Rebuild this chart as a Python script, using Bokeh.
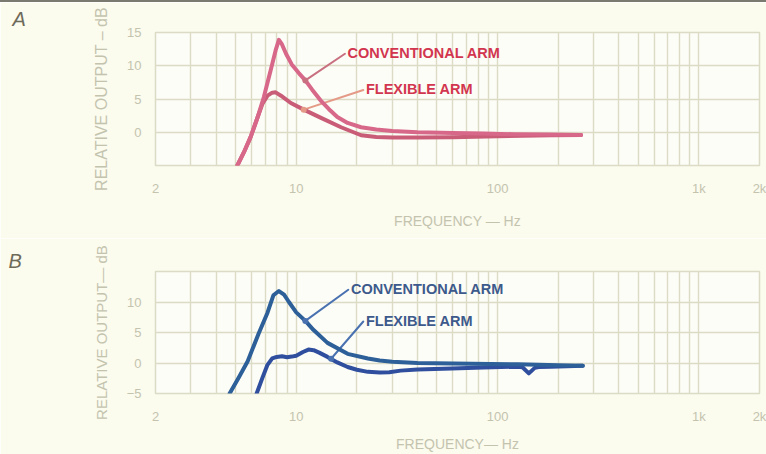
from bokeh.plotting import figure
from bokeh.models import Range1d, FixedTicker, Div
from bokeh.layouts import column
from bokeh.embed import file_html
from bokeh.resources import INLINE
from bokeh.core.properties import value

# ---------------- data ----------------
# Panel A
fa_conv = [5.1, 5.5, 5.94, 6.43, 6.9, 7.46, 7.9, 8.2, 8.5, 8.9, 9.5, 10.3, 11.1, 12.0, 13.2,
           14.5, 16.0, 18.0, 21.0, 25.0, 30.0, 40.0, 60.0, 85.0, 120.0, 180.0, 260.0]
da_conv = [-5.0, -3.0, -0.7, 2.25, 5.25, 9.3, 12.3, 13.9, 13.2, 11.8, 10.2, 8.9, 7.8, 6.4, 4.8,
           3.5, 2.3, 1.4, 0.75, 0.4, 0.2, 0.0, -0.1, -0.2, -0.3, -0.35, -0.4]
fa_flex = [5.1, 5.5, 5.94, 6.43, 6.8, 7.2, 7.6, 7.9, 8.4, 9.4, 10.9, 13.2, 16.7, 21.0, 25.0,
           30.0, 40.0, 60.0, 100.0, 185.0, 260.0]
da_flex = [-5.0, -3.0, -0.7, 2.25, 4.3, 5.5, 5.95, 6.0, 5.5, 4.4, 3.4, 2.2, 0.75, -0.45, -0.7,
           -0.8, -0.8, -0.75, -0.6, -0.45, -0.4]

# Panel B
fb_conv = [4.67, 5.2, 5.74, 6.5, 7.2, 7.7, 8.2, 8.7, 9.2, 10.0, 11.1, 12.2, 14.3, 18.0, 22.7,
           26.0, 30.0, 40.0, 60.0, 126.0, 200.0, 265.0]
db_conv = [-5.0, -2.3, 0.3, 4.8, 8.25, 11.1, 11.8, 11.2, 10.0, 8.3, 6.9, 5.4, 3.3, 1.5, 0.75,
           0.4, 0.2, 0.0, -0.1, -0.2, -0.35, -0.45]
fb_flex = [6.36, 6.8, 7.2, 7.6, 8.0, 8.5, 9.0, 9.5, 10.0, 10.8, 11.5, 12.2, 13.0, 14.3, 16.0,
           18.0, 20.0, 22.7, 26.0, 29.0, 33.0, 40.0, 59.0, 85.0, 126.0, 133.0, 143.0, 153.0,
           160.0, 183.0, 265.0]
db_flex = [-5.0, -2.4, -0.3, 0.75, 1.0, 1.1, 0.95, 1.05, 1.2, 1.8, 2.2, 2.1, 1.7, 1.0, 0.1,
           -0.65, -1.1, -1.45, -1.55, -1.5, -1.25, -1.05, -0.9, -0.75, -0.6, -0.7, -1.7, -0.8,
           -0.65, -0.6, -0.45]

x_ticks = [2, 10, 100, 1000, 2000]
x_tick_labels = ["2", "10", "100", "1k", "2k"]
y_ticks_a = [0, 5, 10, 15]
y_ticks_b = [-5, 0, 5, 10]
grid_freqs = [2, 3, 4, 5, 6, 7, 8, 9, 10, 20, 30, 40, 50, 60, 70, 80, 90,
              100, 200, 300, 400, 500, 600, 700, 800, 900, 1000, 2000]
grid_db = [-5, 0, 5, 10, 15]

series_names = ["CONVENTIONAL ARM", "FLEXIBLE ARM"]

# annotation anchors (data coords): label start, leader end on curve
lab_a_x = [18.0, 22.2]
lab_a_y = [11.9, 6.45]
dot_a_x = [11.1, 10.9]
dot_a_y = [7.8, 3.4]
lab_b_x = [18.7, 22.2]
lab_b_y = [12.1, 6.9]
dot_b_x = [11.1, 14.9]
dot_b_y = [6.9, 0.7]

GRID = "#dcdcc6"
AXTXT = "#c4c4ae"
BORDER = "#fbfbee"
PLOTBG = "#fdfdf7"


def make_panel(letter, letter_offset, letter_standoff, height, top, bottom, yticks, ylabel,
               ylabel_size, xlabel, curves, lab_x, lab_y, dot_x, dot_y, text_color,
               leader_colors, xlab_standoff):
    p = figure(width=766, height=height, x_axis_type="log",
               x_range=Range1d(2, 2000), y_range=Range1d(-5, 15),
               output_backend="svg", toolbar_location=None,
               min_border_left=155, min_border_right=7,
               min_border_top=top, min_border_bottom=bottom)
    p.background_fill_color = PLOTBG
    p.border_fill_color = BORDER
    p.outline_line_color = GRID
    p.outline_line_width = 1.5

    p.title.text = letter
    p.title.align = "left"
    p.title.offset = letter_offset
    p.title.standoff = letter_standoff
    p.title.text_font = "Liberation Sans"
    p.title.text_font_style = "italic"
    p.title.text_font_size = "20px"
    p.title.text_color = "#6e6a5a"

    xa = p.xaxis[0]
    xa.ticker = FixedTicker(ticks=x_ticks)
    xa.major_label_overrides = {t: s for t, s in zip(x_ticks, x_tick_labels)}
    xa.axis_line_color = None
    xa.major_tick_line_color = None
    xa.minor_tick_line_color = None
    xa.major_label_standoff = 9
    xa.major_label_text_font = "Liberation Sans"
    xa.major_label_text_font_size = "13px"
    xa.major_label_text_color = AXTXT
    xa.axis_label = xlabel
    xa.axis_label_standoff = xlab_standoff
    xa.axis_label_text_font = "Liberation Sans"
    xa.axis_label_text_font_size = "14px"
    xa.axis_label_text_font_style = "normal"
    xa.axis_label_text_color = AXTXT

    ya = p.yaxis[0]
    ya.ticker = FixedTicker(ticks=yticks)
    ya.axis_line_color = None
    ya.major_tick_line_color = None
    ya.minor_tick_line_color = None
    ya.major_label_standoff = 8
    ya.major_label_text_font = "Liberation Sans"
    ya.major_label_text_font_size = "13px"
    ya.major_label_text_color = AXTXT
    ya.axis_label = ylabel
    ya.axis_label_standoff = 14
    ya.axis_label_text_font = "Liberation Sans"
    ya.axis_label_text_font_size = ylabel_size
    ya.axis_label_text_font_style = "normal"
    ya.axis_label_text_color = AXTXT

    p.xgrid.ticker = FixedTicker(ticks=grid_freqs)
    p.ygrid.ticker = FixedTicker(ticks=grid_db)
    for g in (p.xgrid[0], p.ygrid[0]):
        g.grid_line_color = GRID
        g.grid_line_width = 1.4
        g.minor_grid_line_color = None

    # leaders
    for i in range(2):
        p.line([dot_x[i], lab_x[i] * 0.97], [dot_y[i], lab_y[i] - 0.1],
               line_color=leader_colors[i], line_width=2.0, line_cap="round")
    # curves
    for fx, dy, col in curves:
        p.line(fx, dy, line_color=col, line_width=4, line_cap="round", line_join="round")
    p.scatter(dot_x, dot_y, size=6, color=leader_colors, line_color=None)

    p.text(x=lab_x, y=lab_y, text=series_names, text_font=value("Liberation Sans"),
           text_font_size="14.5px", text_font_style="bold", text_color=text_color,
           text_align="left", text_baseline="middle")
    return p


top_rule = Div(text="", width=766, height=2,
               styles={"background-color": "#7a7a70", "margin": "0", "padding": "0"})

pa = make_panel("A", -143, 6, 236, 30, 73, y_ticks_a, "RELATIVE OUTPUT \u2013 dB", "16px",
                "FREQUENCY \u2014 Hz",
                [(fa_flex, da_flex, "#c95d78"), (fa_conv, da_conv, "#d8688a")],
                lab_a_x, lab_a_y, dot_a_x, dot_a_y, "#d2364f", ["#c87080", "#e49a86"], 14)
pb = make_panel("B", -147, 0, 216, 33, 49, y_ticks_b, "RELATIVE OUTPUT\u2014 dB", "15px",
                "FREQUENCY\u2014 Hz",
                [(fb_flex, db_flex, "#2f4f9e"), (fb_conv, db_conv, "#2d5f98")],
                lab_b_x, lab_b_y, dot_b_x, dot_b_y, "#3d5a8c", ["#4a72b0", "#4a72b0"], 9)

layout = column(top_rule, pa, pb, spacing=0)
open("out.html", "w").write(file_html(layout, INLINE))
